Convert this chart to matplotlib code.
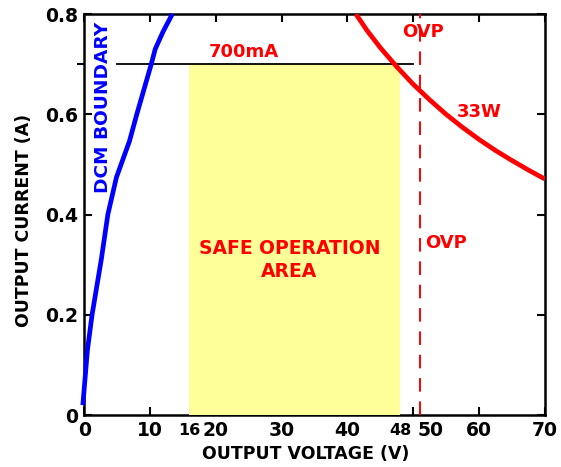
import matplotlib
matplotlib.use('Agg')
from matplotlib import pyplot as plt
from matplotlib.patches import Rectangle
import matplotlib.transforms as mtransforms

# DCM boundary
dcm_v = [-0.2, 0.5, 1.2, 2.6, 3.6, 4.9, 6.9, 8.0, 10.2, 10.8, 12.0, 13.4]
dcm_i = [0.02, 0.13, 0.20, 0.31, 0.40, 0.474, 0.547, 0.60, 0.70, 0.73, 0.765, 0.80]

# 33W constant power curve
pwr_v = [41.3, 43, 45, 47.5, 50, 52.5, 55, 57.5, 60, 62.5, 65, 67.5, 70]
pwr_i = [0.80, 0.767, 0.733, 0.695, 0.66, 0.629, 0.60, 0.574, 0.55, 0.528,
         0.508, 0.489, 0.471]

ovp_v = 51
i_max = 0.70
i_max_span = [5, 50]
soa_v = [16, 48]

x_ticks = [0, 10, 20, 30, 40, 50, 60, 70]
y_ticks = [0, 0.2, 0.4, 0.6, 0.8]
y_labels = ['0', '0.2', '0.4', '0.6', '0.8']

plt.rcParams['font.family'] = 'DejaVu Sans'
plt.rcParams['font.weight'] = 'bold'

fig = plt.figure(figsize=(5.61, 4.67), dpi=100)
ax = fig.add_axes([0.150, 0.111, 0.821, 0.859])

ax.add_patch(Rectangle((soa_v[0], 0), soa_v[1] - soa_v[0], i_max,
                       facecolor='#ffff99', edgecolor='none', zorder=3))
ax.plot(i_max_span, [i_max, i_max], color='black', lw=1.3, zorder=4)
ax.plot(dcm_v, dcm_i, color='#0000ff', lw=3.4, zorder=5, solid_capstyle='butt',
        clip_on=False)
ax.plot(pwr_v, pwr_i, color='#ff0000', lw=3.4, zorder=5, solid_capstyle='butt')
ax.axvline(ovp_v, color='#ff0000', lw=1.4, dashes=(7, 5), zorder=4)

ax.set_xlim(0, 70)
ax.set_ylim(0, 0.8)
ax.set_xticks(x_ticks)
ax.set_xticklabels([str(t) for t in x_ticks])
ax.set_yticks(y_ticks)
ax.set_yticklabels(y_labels)
ax.set_yticks([0.7], minor=True)
ax.tick_params(axis='both', which='major', direction='in', length=6, width=1.5,
               labelsize=13.5, top=True, right=True, pad=4)
ax.tick_params(axis='y', which='minor', direction='out', length=5, width=1.5)
for s in ax.spines.values():
    s.set_linewidth(1.8)

# shift the "50" label right, like the original
lab50 = ax.get_xticklabels()[5]
lab50.set_transform(lab50.get_transform() +
                    mtransforms.ScaledTranslation(0.17, 0, fig.dpi_scale_trans))

ax.text(16, -0.016, '16', ha='center', va='top', fontsize=11.5, fontweight='bold')
ax.text(48, -0.016, '48', ha='center', va='top', fontsize=11.5, fontweight='bold')

ax.set_xlabel('OUTPUT VOLTAGE (V)', fontsize=12.5, fontweight='bold', labelpad=3)
ax.xaxis.set_label_coords(0.482, -0.075)
ax.set_ylabel('OUTPUT CURRENT (A)', fontsize=12.5, fontweight='bold')
ax.yaxis.set_label_coords(-0.11, 0.485)

red = '#ff0000'
ax.text(2.9, 0.613, 'DCM BOUNDARY', color='#0000ff', rotation=90, ha='center',
        va='center', fontsize=13.3, fontweight='bold', zorder=6)
ax.text(24.3, 0.725, '700mA', color=red, ha='center', va='center', fontsize=13,
        fontweight='bold', zorder=6)
ax.text(51.5, 0.765, 'OVP', color=red, ha='center', va='center', fontsize=13,
        fontweight='bold', zorder=6)
ax.text(60.0, 0.605, '33W', color=red, ha='center', va='center', fontsize=13,
        fontweight='bold', zorder=6)
ax.text(55.0, 0.343, 'OVP', color=red, ha='center', va='center', fontsize=13,
        fontweight='bold', zorder=6)
ax.text(31.2, 0.31, 'SAFE OPERATION\nAREA', color=red, ha='center', va='center',
        fontsize=13.5, fontweight='bold', linespacing=1.25, zorder=6)

fig.savefig('out.png', dpi=100)
